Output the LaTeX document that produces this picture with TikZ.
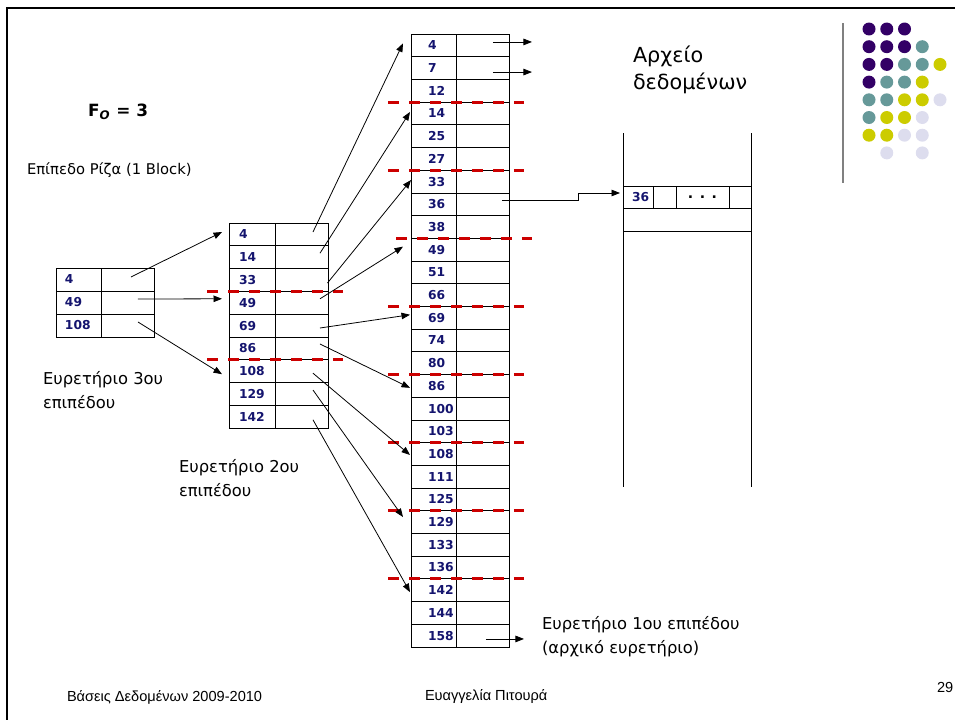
\documentclass[tikz,border=0pt]{standalone}
\usepackage{fontspec}
\setmainfont{DejaVu Sans}
\newfontfamily\footfont{Liberation Sans}
\usetikzlibrary{arrows.meta,positioning}
\definecolor{keynavy}{RGB}{20,20,110}
\definecolor{cutred}{RGB}{204,0,0}
\definecolor{dotP}{RGB}{51,0,102}
\definecolor{dotT}{RGB}{102,153,153}
\definecolor{dotY}{RGB}{204,204,0}
\definecolor{dotL}{RGB}{221,221,238}

\begin{document}
\begin{tikzpicture}[x=0.02cm,y=-0.02cm,
    every node/.style={inner sep=0pt,outer sep=0pt},
    keycell/.style={draw,anchor=north west,align=left,text=keynavy,
                    font=\fontsize{7}{8}\selectfont\bfseries},
    l1key/.style={keycell,minimum height=0.454cm,inner xsep=0.34cm,text width=0.22cm},
    l2key/.style={keycell,minimum height=0.456cm,inner xsep=0.2cm,text width=0.52cm},
    rootkey/.style={keycell,minimum height=0.46cm,inner xsep=0.18cm,text width=0.54cm},
    ptrcell/.style={draw,anchor=north west,minimum width=1.06cm,minimum height=#1},
    ptr/.style={-{Triangle[length=1.7mm,width=1.3mm]},line width=0.45pt},
    cut/.style={draw=cutred,line width=1.7pt,dash pattern=on 0.22cm off 0.2cm},
    idxlbl/.style={anchor=west,align=left,font=\fontsize{9.3}{13.5}\selectfont},
    foot/.style={anchor=west,font=\footfont\fontsize{8.3}{9}\selectfont}]
  \useasboundingbox (0,0) rectangle (955,720);
  \draw[line width=1.4pt] (955,8) -- (7,8) -- (7,720);

  % root, level 2 and level 1 blocks
  \foreach \v [count=\i] in {4,49,108}{
    \node[rootkey] (Rk\i) at (56,{268+(\i-1)*23}) {\v};
    \node[ptrcell=0.46cm] (Rp\i) at (Rk\i.north east) {};
  }
  \foreach \v [count=\i] in {4,14,33,49,69,86,108,129,142}{
    \node[l2key] (L2k\i) at (229,{223+(\i-1)*22.8}) {\v};
    \node[ptrcell=0.456cm] (L2p\i) at (L2k\i.north east) {};
  }
  \foreach \v [count=\i] in {4,7,12,14,25,27,33,36,38,49,51,66,69,74,80,
                             86,100,103,108,111,125,129,133,136,142,144,158}{
    \node[l1key] (L1k\i) at (411,{34+(\i-1)*22.7}) {\v};
    \node[ptrcell=0.454cm] (L1p\i) at (L1k\i.north east) {};
  }

  % data file
  \draw (623,133) -- (623,487);
  \draw (751,133) -- (751,487);
  \node[keycell,minimum height=0.44cm,inner xsep=0.18cm,text width=0.24cm] (D1) at (623,186) {36};
  \node[ptrcell=0.44cm,minimum width=0.46cm] (D2) at (D1.north east) {};
  \node[ptrcell=0.44cm,font=\fontsize{8}{9}\selectfont\bfseries] (D3) at (D2.north east) {. . .};
  \node[ptrcell=0.44cm,minimum width=0.44cm] (D4) at (D3.north east) {};
  \draw (623,231) -- (751,231);

  % block boundaries
  \foreach \r in {4,7,13,16,19,22,25}
    \draw[cut] ([xshift=-0.46cm]L1k\r.north west) -- ([xshift=0.3cm]L1p\r.north east);
  \draw[cut] ([xshift=-0.3cm]L1k10.north west) -- ([xshift=0.46cm]L1p10.north east);
  \foreach \r in {4,7}
    \draw[cut] ([xshift=-0.44cm]L2k\r.north west) -- ([xshift=0.3cm]L2p\r.north east);

  % pointers
  \draw[ptr] ([shift={(3.5,-2.5)}]Rp1.center) -- ([shift={(-7,-2.4)}]L2k1.west);
  \draw[ptr] ([shift={(10.5,-3.5)}]Rp2.center) -- ([shift={(-7,-4)}]L2k4.west);
  \draw[ptr] ([shift={(10.5,-3.5)}]Rp3.center) -- ([shift={(-7,3)}]L2k7.west);
  \foreach \s/\sx/\sy/\d/\dx/\dy in {1/11.5/-2.4/1/-8/-2, 2/18.5/-4/4/-1/-1.5,
      3/26/3/7/0/-1.5, 4/18.5/-4/10/-8/-3, 5/18.5/2.4/13/-1/-3, 6/18.5/-4.4/16/-1/2,
      7/11.5/2/19/-1/1, 8/11.5/-4/22/-8/-5, 9/11.5/3/25/-1/2}
    \draw[ptr] ([shift={(\sx,\sy)}]L2p\s.center) -- ([shift={(\dx,\dy)}]L1k\d.west);
  \draw[ptr] ([shift={(10.5,-3.4)}]L1p1.center) -- ++(39,0);
  \draw[ptr] ([shift={(10.5,4)}]L1p2.center) -- ++(39,0);
  \draw[ptr] ([shift={(3.5,3.4)}]L1p27.center) -- ++(38,0);
  \draw[ptr] ([shift={(19.5,-4.3)}]L1p8.center) -- ++(76,0) |- ([shift={(-3,-4)}]D1.west);

  % labels
  \node[anchor=west,font=\fontsize{9.6}{12}\selectfont\bfseries] (fo) at (88,112)
       {F\textsubscript{\itshape O} = 3};
  \node[anchor=west,font=\fontsize{8.4}{9}\selectfont] (rootlbl) at (27,170)
       {Επίπεδο Ρίζα (1 Block)};
  \node[idxlbl] (lvl3) at (43,390) {Ευρετήριο 3ου\\επιπέδου};
  \node[idxlbl] (lvl2) at (179,478) {Ευρετήριο 2ου\\επιπέδου};
  \node[idxlbl] (lvl1) at (542,637) {Ευρετήριο 1ου επιπέδου\\(αρχικό ευρετήριο)};
  \node[idxlbl,font=\fontsize{11.8}{15.3}\selectfont] (datalbl) at (633,70)
       {Αρχείο\\δεδομένων};
  \node[foot] (course) at (67,697) {Βάσεις Δεδομένων 2009-2010};
  \node[foot] (author) at (425,697) {Ευαγγελία Πιτουρά};
  \node[foot] (page) at (937,687) {29};

  % decoration
  \draw[gray,line width=0.8pt] (843,23) -- (843,183);
  \foreach \cl [count=\r] in {{P,P,P},{P,P,P,T},{P,P,T,T,Y},{P,T,T,Y},
                              {T,T,Y,Y,L},{T,Y,Y,L},{Y,Y,L,L}}
    \foreach \c [count=\k] in \cl
      \fill[dot\c] ({869+(\k-1)*17.75},{29+(\r-1)*17.7}) circle[radius=0.13cm];
  \fill[dotL] (886.75,152.9) circle[radius=0.13cm] (922.25,152.9) circle[radius=0.13cm];
\end{tikzpicture}
\end{document}
